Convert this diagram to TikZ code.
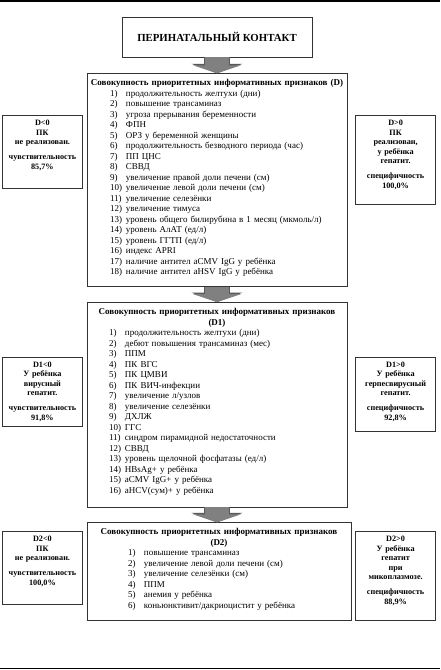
\documentclass[tikz,border=0pt]{standalone}
\usepackage{fontspec}
\setmainfont{Liberation Serif}
\usetikzlibrary{positioning,arrows.meta}

\newlength\itmind
\newcommand{\itm}[2]{\noindent\hspace*{\itmind}\makebox[16pt][l]{#1}#2\par}
\newcommand{\bpad}[1]{\par\nointerlineskip\vbox to #1{\vfil}}

\begin{document}
\begin{tikzpicture}[
    mainbox/.style = {draw=black!80, line width=0.6pt, text width=252pt, inner xsep=4pt, inner ysep=6pt, font=\fontsize{9pt}{10.5pt}\selectfont},
    sidebox/.style = {draw=black!80, line width=0.6pt, text width=73pt, align=center, inner xsep=3.5pt, inner ysep=4.5pt, font=\bfseries\fontsize{8.2pt}{9.5pt}\selectfont},
    titlebox/.style = {draw=black!80, line width=0.6pt, minimum width=190pt, minimum height=40pt, font=\bfseries\fontsize{10.8pt}{12pt}\selectfont},
    fatarrow/.style = {line width=24pt, draw=gray, -{Triangle[length=8pt, width=48pt]}},
    fatrim/.style = {line width=26pt, draw=black!65, -{Triangle[length=9.5pt, width=51pt]}}
  ]
  \useasboundingbox (0,0) rectangle (440pt,-670pt);
  \draw[line width=1.5pt] (0,-1pt) -- (440pt,-1pt);
  \draw[line width=1.5pt] (0,-668.5pt) -- (440pt,-668.5pt);

  \node[titlebox] (title) at (217pt,-37pt) {ПЕРИНАТАЛЬНЫЙ КОНТАКТ};

  % first set of signs
  \node[mainbox] (d) [below=16pt of title] {\setlength\itmind{19pt}%
    \noindent\makebox[\linewidth]{\bfseries Совокупность приоритетных информативных признаков (D)}\par
    \itm{1)}{продолжительность желтухи (дни)}
    \itm{2)}{повышение трансаминаз}
    \itm{3)}{угроза прерывания беременности}
    \itm{4)}{ФПН}
    \itm{5)}{ОРЗ у беременной женщины}
    \itm{6)}{продолжительность безводного периода (час)}
    \itm{7)}{ПП ЦНС}
    \itm{8)}{СВВД}
    \itm{9)}{увеличение правой доли печени (см)}
    \itm{10)}{увеличение левой доли печени (см)}
    \itm{11)}{увеличение селезёнки}
    \itm{12)}{увеличение тимуса}
    \itm{13)}{уровень общего билирубина в 1 месяц (мкмоль/л)}
    \itm{14)}{уровень АлАТ (ед/л)}
    \itm{15)}{уровень ГГТП (ед/л)}
    \itm{16)}{индекс APRI}
    \itm{17)}{наличие антител aCMV IgG у ребёнка}
    \itm{18)}{наличие антител aHSV IgG у ребёнка}\bpad{4pt}};
  \node[sidebox] (dneg) [below left=42pt and 4pt of d.north west] {D<0\\ПК\\не реализован.\\[5.5pt]чувствительность\\85,7\%\bpad{13pt}};
  \node[sidebox] (dpos) [below right=42pt and 8pt of d.north east] {D>0\\ПК\\реализован,\\у ребёнка\\гепатит.\\[5.5pt]специфичность\\100,0\%\bpad{10pt}};

  % second set of signs
  \node[mainbox] (d1) [below=15pt of d] {\setlength\itmind{18pt}%
    {\centering\bfseries Совокупность приоритетных информативных признаков\\(D1)\par}
    \itm{1)}{продолжительность желтухи (дни)}
    \itm{2)}{дебют повышения трансаминаз (мес)}
    \itm{3)}{ППМ}
    \itm{4)}{ПК ВГС}
    \itm{5)}{ПК ЦМВИ}
    \itm{6)}{ПК ВИЧ-инфекции}
    \itm{7)}{увеличение л/узлов}
    \itm{8)}{увеличение селезёнки}
    \itm{9)}{ДХЛЖ}
    \itm{10)}{ГГС}
    \itm{11)}{синдром пирамидной недостаточности}
    \itm{12)}{СВВД}
    \itm{13)}{уровень щелочной фосфатазы (ед/л)}
    \itm{14)}{HBsAg+ у ребёнка}
    \itm{15)}{aCMV IgG+ у ребёнка}
    \itm{16)}{aHCV(сум)+ у ребёнка}\bpad{6pt}};
  \node[sidebox] (d1neg) [below left=55pt and 4pt of d1.north west] {D1<0\\У ребёнка\\вирусный\\гепатит.\\[5.5pt]чувствительность\\91,8\%\bpad{0pt}};
  \node[sidebox] (d1pos) [below right=55pt and 8pt of d1.north east] {D1>0\\У ребёнка\\герпесвирусный\\гепатит.\\[5.5pt]специфичность\\92,8\%\bpad{5pt}};

  % third set of signs
  \node[mainbox, text width=256pt] (d2) [below=15pt of d1.south west, anchor=north west] {\setlength\itmind{37pt}%
    {\centering\bfseries Совокупность приоритетных информативных признаков\\(D2)\par}
    \itm{1)}{повышение трансаминаз}
    \itm{2)}{увеличение левой доли печени (см)}
    \itm{3)}{увеличение селезёнки (см)}
    \itm{4)}{ППМ}
    \itm{5)}{анемия у ребёнка}
    \itm{6)}{коньюнктивит/дакриоцистит у ребёнка}\bpad{4pt}};
  \node[sidebox] (d2neg) [below left=9pt and 4pt of d2.north west] {D2<0\\ПК\\не реализован.\\[5.5pt]чувствительность\\100,0\%\bpad{13pt}};
  \node[sidebox] (d2pos) [below right=9pt and 4pt of d2.north east] {D2>0\\У ребёнка\\гепатит\\при\\микоплазмозе.\\[5.5pt]специфичность\\88,9\%\bpad{10pt}};

  % arrows between the sets
  \draw[fatrim] (title) -- (d);
  \draw[fatarrow] (title) -- (d);
  \draw[fatrim] (d) -- (d1);
  \draw[fatarrow] (d) -- (d1);
  \draw[fatrim] (d1.south) -- (d1.south |- d2.north);
  \draw[fatarrow] (d1.south) -- (d1.south |- d2.north);
\end{tikzpicture}
\end{document}
